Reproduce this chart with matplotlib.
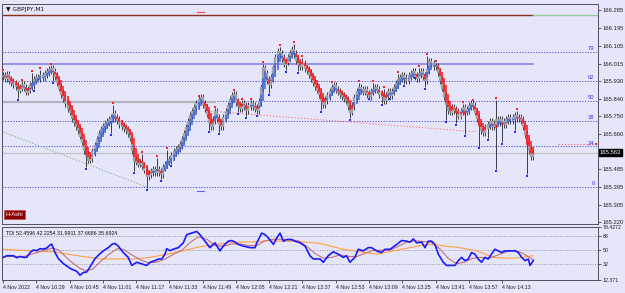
import matplotlib
matplotlib.use('Agg')
import matplotlib.pyplot as plt
import matplotlib.transforms as mtransforms
import numpy as np

plt.rcParams['font.family'] = ['Liberation Sans', 'DejaVu Sans']

# ---------------- data ----------------
closes = [
    165.954,165.944,165.959,165.934,165.924,165.914,165.904,165.884,165.894,165.909,165.894,165.874,165.884,165.904,165.914,165.934,
    165.944,165.944,165.954,165.949,165.964,165.974,165.984,165.989,165.974,165.954,165.924,165.894,165.863,165.843,165.818,165.793,
    165.773,165.742,165.722,165.702,165.682,165.652,165.622,165.581,165.556,165.531,165.541,165.571,165.601,165.632,165.662,165.682,
    165.697,165.712,165.722,165.732,165.742,165.763,165.742,165.732,165.712,165.702,165.692,165.682,165.667,165.642,165.581,165.531,
    165.521,165.511,165.516,165.501,165.481,165.450,165.460,165.470,165.481,165.470,165.481,165.470,165.460,165.491,165.506,165.521,
    165.531,165.551,165.571,165.581,165.591,165.606,165.632,165.662,165.692,165.722,165.753,165.773,165.793,165.813,165.833,165.843,
    165.813,165.793,165.763,165.722,165.702,165.732,165.773,165.742,165.712,165.702,165.742,165.773,165.803,165.833,165.853,165.858,
    165.823,165.803,165.793,165.813,165.803,165.783,165.803,165.813,165.803,165.793,165.783,165.823,165.894,165.994,165.964,165.934,
    165.914,165.944,165.994,166.045,166.075,166.065,166.045,166.015,166.025,166.045,166.065,166.085,166.065,166.035,166.015,166.004,
    166.015,165.994,165.984,165.964,165.944,165.924,165.904,165.884,165.863,165.833,165.813,165.833,165.853,165.874,165.894,165.904,
    165.884,165.874,165.863,165.853,165.843,165.833,165.803,165.773,165.803,165.843,165.874,165.894,165.884,165.874,165.884,165.863,
    165.853,165.874,165.884,165.894,165.884,165.863,165.853,165.833,165.853,165.874,165.858,165.874,165.894,165.914,165.934,165.944,
    165.954,165.944,165.934,165.954,165.964,165.974,165.954,165.944,165.964,165.974,165.954,165.934,165.984,166.025,166.015,166.004,
    166.004,165.974,165.934,165.894,165.853,165.813,165.783,165.773,165.793,165.783,165.773,165.753,165.773,165.793,165.773,165.783,
    165.803,165.813,165.803,165.773,165.742,165.707,165.682,165.672,165.692,165.707,165.722,165.702,165.712,165.732,165.722,165.732,
    165.722,165.712,165.732,165.742,165.732,165.742,165.753,165.742,165.742,165.732,165.702,165.662,165.622,165.581,165.551,165.566,
]

frac_up_idx = [0, 9, 14, 18, 23, 53, 67, 74, 79, 94, 102, 111, 115, 119, 125, 133, 140, 144,
               158, 171, 178, 183, 190, 200, 204, 208, 221, 226, 237, 247]
frac_up_px = [165.984, 165.934, 165.979, 165.994, 166.015, 165.818, 165.571, 165.551, 165.591, 165.853,
              165.798, 165.884, 165.838, 165.838, 166.025, 166.110, 166.125, 166.055, 165.924, 165.929,
              165.929, 165.899, 165.974, 166.004, 166.065, 166.030, 165.823, 165.833, 165.843, 165.788]
frac_dn_idx = [7, 15, 24, 40, 52, 63, 69, 76, 81, 99, 104, 113, 117, 122, 128, 136, 142, 153, 167,
               176, 182, 186, 193, 198, 203, 213, 218, 222, 229, 233, 237, 240, 246, 252]
frac_dn_px = [165.833, 165.879, 165.919, 165.486, 165.657, 165.466, 165.380, 165.425, 165.501, 165.672,
              165.662, 165.763, 165.742, 165.753, 165.858, 165.974, 165.969, 165.773, 165.732, 165.838,
              165.808, 165.838, 165.904, 165.944, 165.889, 165.722, 165.707, 165.652, 165.591, 165.632,
              165.476, 165.612, 165.672, 165.450]

price_ticks = [166.285, 166.195, 166.105, 166.015, 165.930, 165.840, 165.750, 165.660,
               165.485, 165.395, 165.305, 165.220]
price_tick_labels = ["166.285", "166.195", "166.105", "166.015", "165.930", "165.840", "165.750",
                     "165.660", "165.485", "165.395", "165.305", "165.220"]

fib_low = 165.395
fib_high = 166.261
fib_levels = [0.0, 0.236, 0.382, 0.5, 0.618, 0.786]
fib_labels = ["0", "24", "38", "50", "62", "79"]

resist_price = 166.015
grey_level = 165.823
last_price = 165.566
last_price_label = "165.563"

red_trend_idx = [97, 228]
red_trend_px = [165.779, 165.672]
green_trend_idx = [0, 69]
green_trend_px = [165.672, 165.395]
red_short_idx = [267, 285]
red_short_px = [165.612, 165.612]

time_tick_idx = [0, 16, 32, 48, 64, 80, 96, 112, 128, 144, 160, 176, 192, 208, 224, 240]
time_labels = ["4 Nov 2022", "4 Nov 10:29", "4 Nov 10:45", "4 Nov 11:01", "4 Nov 11:17",
               "4 Nov 11:33", "4 Nov 11:49", "4 Nov 12:05", "4 Nov 12:21", "4 Nov 12:37",
               "4 Nov 12:53", "4 Nov 13:09", "4 Nov 13:25", "4 Nov 13:41", "4 Nov 13:57",
               "4 Nov 14:13"]

tdi_blue_idx = [0.2, 1.8, 5.0, 6.6, 8.2, 9.8, 11.4, 13.0, 14.6, 16.2, 17.8, 19.4, 21.0, 22.6, 23.4,
                25.0, 26.6, 29.0, 32.2, 35.4, 37.0, 38.6, 40.2, 41.8, 44.2, 46.6, 48.2, 50.6, 52.3,
                53.8, 55.4, 57.8, 60.2, 61.9, 64.3, 66.7, 69.1, 70.7, 73.1, 74.7, 76.3, 77.9, 78.7,
                80.3, 81.9, 84.3, 86.7, 88.3, 90.7, 93.1, 94.7, 97.1, 99.5, 101.9, 104.3, 105.9,
                108.3, 110.0, 111.6, 113.1, 115.5, 118.8, 121.2, 122.0, 124.4, 126.0, 127.6, 130.0,
                131.6, 133.2, 134.8, 136.4, 138.8, 140.4, 142.8, 145.2, 147.6, 149.2, 152.4, 154.0,
                156.4, 158.8, 161.2, 163.6, 165.2, 166.8, 169.2, 170.8, 173.2, 175.6, 177.2, 179.6,
                182.0, 183.6, 186.1, 189.3, 191.7, 194.1, 195.7, 197.3, 198.9, 201.3, 202.9, 204.5,
                206.1, 207.7, 209.3, 211.7, 213.3, 215.7, 217.3, 218.9, 220.5, 222.1, 223.7, 225.3,
                226.9, 228.5, 230.1, 231.7, 233.3, 234.9, 236.5, 238.1, 239.7, 241.3, 243.8, 246.2,
                247.8, 249.4, 251.0, 252.6, 253.4, 255.0]
tdi_blue = [41.0, 43.1, 43.1, 40.6, 42.2, 41.0, 41.0, 47.1, 50.4, 49.5, 52.0, 51.5, 52.8, 56.6, 57.8,
            47.1, 39.4, 33.2, 27.1, 23.4, 18.5, 21.8, 22.5, 28.7, 39.4, 45.5, 49.2, 53.3, 57.4,
            58.7, 55.3, 47.1, 41.0, 30.8, 34.8, 32.8, 30.8, 34.8, 36.9, 38.9, 38.9, 45.1, 52.0,
            49.5, 51.4, 53.3, 59.4, 69.7, 71.7, 73.8, 69.7, 61.5, 53.3, 59.4, 49.2, 55.3,
            61.5, 62.3, 60.3, 57.4, 55.3, 53.3, 53.3, 59.4, 71.7, 69.7, 65.5, 57.4,
            65.5, 71.7, 61.5, 63.6, 63.6, 61.5, 59.4, 55.3, 43.0, 39.0, 39.0, 34.8,
            43.1, 48.0, 45.1, 41.0, 43.1, 34.8, 41.0, 51.3, 49.2, 53.3, 53.3, 49.2,
            47.1, 51.2, 51.2, 57.4, 62.3, 61.5, 60.3, 64.3, 59.4, 60.3, 53.3, 61.5,
            61.5, 57.4, 45.1, 34.8, 30.8, 30.8, 30.8, 36.9, 41.0, 36.9, 38.9, 47.1,
            45.1, 38.9, 34.8, 41.0, 38.9, 45.1, 51.3, 49.2, 47.1, 49.2, 49.2, 49.2,
            47.1, 41.0, 36.9, 38.9, 30.8, 36.9]

tdi_red_idx = [0, 10, 15, 20, 24, 27, 30, 33, 37, 40, 43, 47, 51, 55, 58, 62, 66, 70, 74, 78, 82,
               86, 90, 94, 98, 102, 106, 110, 114, 118, 122, 126, 130, 134, 138, 142, 146, 150,
               154, 158, 162, 166, 170, 174, 178, 182, 186, 190, 194, 198, 202, 206, 210, 214,
               218, 222, 226, 230, 234, 238, 242, 246, 250, 255]
tdi_red = [42, 42, 46, 50, 53, 50, 42, 35, 27, 24, 26, 36, 45, 52, 51, 44, 38, 34, 35, 39, 45,
           50, 60, 67, 64, 56, 55, 58, 58, 56, 56, 62, 64, 64, 63, 62, 55, 46,
           40, 41, 44, 42, 42, 46, 50, 50, 50, 55, 60, 62, 61, 60, 52, 40,
           33, 35, 40, 41, 40, 44, 48, 50, 46, 38]

tdi_orange_idx = [0, 14.4, 24, 30.8, 46.6, 62.5, 70.7, 78.8, 86.5, 94.7, 102.9, 110.6, 120.2,
                  126.9, 142.8, 152.4, 163.5, 179.8, 187.5, 195.7, 203.8, 208.7, 219.7, 227.9,
                  235.6, 243.8, 250.0, 254.8]
tdi_orange = [51.3, 49.2, 48.0, 45.1, 39.0, 39.0, 41.0, 45.1, 49.2, 54.5, 57.4, 60.3, 60.5,
              62.0, 61.0, 58.7, 51.3, 45.1, 49.2, 53.3, 57.4, 56.5, 53.3, 49.2,
              41.0, 39.8, 41.0, 43.1]

tdi_levels = [68, 50, 32]
tdi_ticks = [79.4272, 68, 50, 32, 12.371]
tdi_tick_labels = ["79.4272", "68", "50", "32", "12.371"]
tdi_text = "TDI 52.4596 42.2254 31.9911 37.6686 35.6924"

# ---------------- derived candles ----------------
n = len(closes)
c = np.array(closes)
o = np.r_[c[0], c[:-1]]
hi = np.maximum(o, c) + 0.018
lo = np.minimum(o, c) - 0.018
for i, p in zip(frac_up_idx, frac_up_px):
    hi[i] = max(hi[i], p - 0.008)
for i, p in zip(frac_dn_idx, frac_dn_px):
    lo[i] = min(lo[i], p + 0.008)
ha_c = (o + hi + lo + c) / 4
ha_o = np.empty(n)
ha_o[0] = (o[0] + c[0]) / 2
for i in range(1, n):
    ha_o[i] = (ha_o[i - 1] + ha_c[i - 1]) / 2
x = np.arange(n)

# ---------------- figure ----------------
BG = '#e6e6fa'
FS = 4.2
FS_SMALL = 3.8
fig = plt.figure(figsize=(6.25, 2.93), dpi=100, facecolor=BG)
W, H = 625.0, 293.0

def fr(x0, y0, x1, y1):
    return [x0 / W, 1 - y1 / H, (x1 - x0) / W, (y1 - y0) / H]

ax = fig.add_axes(fr(2, 4, 598, 224))
ax2 = fig.add_axes(fr(2, 227, 598, 280), sharex=ax)
for a in (ax, ax2):
    a.set_facecolor(BG)
    for s in a.spines.values():
        s.set_color('#505060')
        s.set_linewidth(0.7)

xmin, xmax = -0.5, 286.1
ax.set_xlim(xmin, xmax)
ax.set_ylim(165.208, 166.317)

# fib levels
rng = fib_high - fib_low
for lv, lab in zip(fib_levels, fib_labels):
    p = fib_low + lv * rng
    ax.axhline(p, color='#4848e8', lw=0.7, ls=(0, (1.2, 1.6)))
    ax.text(284.5, p + 0.004, lab, color='#3838e0', fontsize=FS, ha='right', va='bottom')

# horizontal lines
ax.plot([xmin, n - 1], [fib_high, fib_high], color='#8b3020', lw=1.0)
ax.plot([n - 1, xmax], [fib_high, fib_high], color='#90c898', lw=1.0)
ax.plot([xmin, n - 1], [resist_price, resist_price], color='#8c8cf0', lw=1.3)
ax.plot([xmin, 102], [grey_level, grey_level], color='#b4b4c0', lw=1.6)
ax.axhline(last_price, color='#c4c4cc', lw=0.9)

# trend lines
ax.plot(red_trend_idx, red_trend_px, color='#ff8080', lw=0.8, ls=(0, (1.2, 1.6)))
ax.plot(green_trend_idx, green_trend_px, color='#80c080', lw=0.8, ls=(0, (1.2, 1.6)))
ax.plot(red_short_idx, red_short_px, color='#ff7070', lw=0.8, ls=(0, (1.2, 1.6)))
ax.plot([red_short_idx[-1]], [red_short_px[-1]], 's', color='#ff2020', ms=1.8, mew=0)

# high/low markers
ax.plot([93.5, 96.5], [166.277, 166.277], color='#ff4040', lw=0.8)
ax.plot([93.5, 96.5], [165.375, 165.375], color='#6060ff', lw=0.8)

# candles
ax.vlines(x, lo, hi, color='#202028', lw=0.6, zorder=3)
ax.vlines(x, np.minimum(o, c) - 0.006, np.maximum(o, c) + 0.006, color='#a0a0a8', lw=1.7, zorder=3)
ha_col = np.where(ha_c >= ha_o, '#3c64dc', '#ff1010')
ha_lo = np.minimum(ha_o, ha_c)
ha_hi = np.maximum(ha_o, ha_c)
ha_hi = np.where(ha_hi - ha_lo < 0.004, ha_lo + 0.004, ha_hi)
ax.vlines(x, ha_lo, ha_hi, colors=ha_col, lw=1.1, zorder=4)

# fractals
ax.plot(frac_up_idx, frac_up_px, 's', color='#ff2020', ms=1.8, mew=0, zorder=5)
ax.plot(frac_dn_idx, frac_dn_px, 's', color='#2030ff', ms=1.8, mew=0, zorder=5)

# axes ticks
ax.yaxis.tick_right()
ax.set_yticks(price_ticks)
ax.set_yticklabels(price_tick_labels, fontsize=FS)
ax.tick_params(axis='y', length=2, width=0.5, pad=1.2, colors='#202020')
ax.tick_params(axis='x', which='both', bottom=False, labelbottom=False)

# labels in main chart
ax.text(0.006, 0.985, "\u25bc GBPJPY,M1", transform=ax.transAxes, fontsize=FS, va='top', ha='left',
        color='#101010', family=['DejaVu Sans'])
ax.text(0.006, 0.03, "H-Ashi", transform=ax.transAxes, fontsize=FS, va='bottom', ha='left',
        color='white', bbox=dict(facecolor='#8b0000', edgecolor='#c05050', pad=1.4, lw=0.5))
tr = mtransforms.blended_transform_factory(ax.transAxes, ax.transData)
ax.text(1.003, last_price, last_price_label, transform=tr, fontsize=FS, va='center', ha='left',
        color='white', bbox=dict(facecolor='black', edgecolor='black', pad=0.7), clip_on=False)

# ---------------- TDI ----------------
ax2.set_ylim(12.371, 79.4272)
for lv in tdi_levels:
    ax2.axhline(lv, color='#909098', lw=0.6, ls=(0, (1.2, 1.6)))
ax2.plot(tdi_orange_idx, tdi_orange, color='#ffa040', lw=0.8)
ax2.plot(tdi_red_idx, tdi_red, color='#c87070', lw=0.8)
ax2.plot(tdi_blue_idx, tdi_blue, color='#1a1aff', lw=1.2)
ax2.text(0.006, 0.93, tdi_text, transform=ax2.transAxes, fontsize=FS_SMALL, va='top', ha='left',
         color='#101010')
ax2.yaxis.tick_right()
ax2.set_yticks(tdi_ticks)
ax2.set_yticklabels(tdi_tick_labels, fontsize=FS_SMALL)
ax2.tick_params(axis='y', length=2, width=0.5, pad=1.2, colors='#202020')
ax2.set_xticks(time_tick_idx)
ax2.set_xticklabels(time_labels, fontsize=FS_SMALL, ha='left')
ax2.tick_params(axis='x', length=2, width=0.5, pad=1.8, colors='#202020')

fig.savefig('out.png', dpi=100, facecolor=BG)
